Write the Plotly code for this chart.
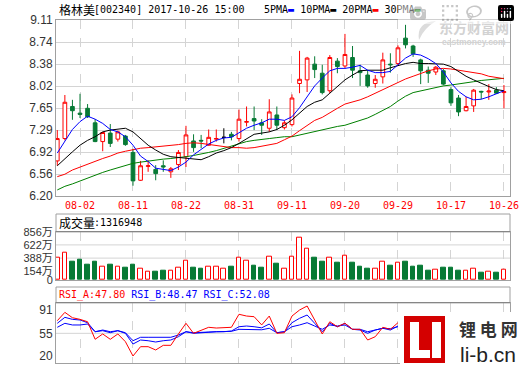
import plotly.graph_objects as go

dates = ['07-28','07-31','08-01','08-02','08-03','08-04','08-07','08-08','08-09','08-10',
         '08-11','08-14','08-15','08-16','08-17','08-18','08-21','08-22','08-23','08-24',
         '08-25','08-28','08-29','08-30','08-31','09-01','09-04','09-05','09-06','09-07',
         '09-08','09-11','09-12','09-13','09-14','09-15','09-18','09-19','09-20','09-21',
         '09-22','09-25','09-26','09-27','09-28','09-29','10-09','10-10','10-11','10-12',
         '10-13','10-16','10-17','10-18','10-19','10-20','10-23','10-24','10-25','10-26']

open_ = [6.78,7.15,7.68,7.57,7.65,7.41,7.10,7.24,7.14,7.19,
         6.92,6.46,6.69,6.64,6.70,6.60,6.72,6.85,7.11,7.12,
         7.04,7.14,7.17,7.22,7.15,7.42,7.48,7.41,7.32,7.54,
         7.33,7.38,8.06,8.12,8.38,8.23,7.94,8.43,8.35,8.49,
         8.27,8.20,8.06,8.17,8.38,8.39,8.81,8.68,8.45,8.28,
         8.25,8.27,7.96,7.82,7.61,7.69,7.93,7.92,7.95,7.91]
high = [7.29,7.87,7.79,7.89,7.72,7.47,7.26,7.39,7.28,7.21,
        6.98,6.78,6.79,6.71,6.79,6.68,6.96,7.36,7.22,7.21,
        7.30,7.30,7.32,7.26,7.63,7.68,7.68,7.47,7.80,7.68,
        7.45,7.88,8.60,8.50,8.51,8.37,8.53,8.48,8.88,8.68,
        8.37,8.28,8.20,8.57,8.56,8.69,9.03,8.70,8.47,8.34,
        8.35,8.30,8.00,7.87,7.84,7.97,7.94,8.05,8.00,8.035]
low = [6.70,7.12,7.46,7.49,7.49,7.09,6.94,7.01,7.10,7.03,
       6.37,6.45,6.60,6.46,6.60,6.50,6.63,6.68,6.93,6.99,
       7.03,7.10,7.07,7.12,7.10,7.35,7.29,7.21,7.26,7.29,
       7.30,7.35,7.90,7.92,8.15,7.88,7.90,8.23,8.31,8.15,
       8.02,7.99,7.99,8.06,8.24,8.35,8.64,8.50,8.05,8.07,
       8.20,8.03,7.69,7.52,7.60,7.59,7.80,7.79,7.89,7.65]
close = [7.15,7.75,7.61,7.55,7.51,7.10,7.25,7.07,7.26,7.05,
         6.45,6.70,6.70,6.57,6.68,6.65,6.92,7.21,7.00,7.11,
         7.17,7.15,7.17,7.18,7.47,7.43,7.44,7.37,7.59,7.37,
         7.41,7.82,8.13,8.48,8.29,7.91,8.49,8.34,8.54,8.28,
         8.24,8.02,8.13,8.45,8.37,8.65,8.70,8.55,8.27,8.23,
         8.33,8.05,7.74,7.59,7.68,7.95,7.92,7.935,7.90,7.925]

ma5 = [6.91,7.10,7.30,7.43,7.52,7.47,7.40,7.30,7.26,7.18,
       7.04,6.86,6.77,6.66,6.64,6.62,6.68,6.76,6.88,6.97,
       7.06,7.12,7.16,7.17,7.25,7.32,7.37,7.41,7.47,7.47,
       7.45,7.51,7.66,7.84,8.02,8.15,8.27,8.31,8.31,8.33,
       8.36,8.28,8.24,8.24,8.26,8.37,8.48,8.55,8.53,8.47,
       8.39,8.25,8.07,7.93,7.84,7.79,7.80,7.84,7.89,7.94]
ma10 = [6.70,6.82,6.93,7.04,7.12,7.18,7.26,7.29,7.31,7.32,
        7.26,7.15,7.04,6.96,6.89,6.85,6.84,6.83,6.81,6.80,
        6.85,6.91,6.95,7.00,7.07,7.15,7.22,7.24,7.26,7.30,
        7.37,7.46,7.57,7.68,7.75,7.79,7.90,8.01,8.12,8.20,
        8.27,8.28,8.28,8.28,8.32,8.36,8.39,8.41,8.39,8.39,
        8.38,8.38,8.34,8.26,8.18,8.12,8.06,8.01,7.96,7.94]
ma20 = [6.52,6.56,6.63,6.68,6.73,6.77,6.82,6.86,6.91,6.94,
        6.97,6.99,7.00,7.01,7.02,7.03,7.05,7.07,7.08,7.07,
        7.05,7.03,7.01,7.00,7.00,6.99,7.00,7.02,7.04,7.07,
        7.13,7.19,7.28,7.37,7.45,7.50,7.58,7.65,7.72,7.75,
        7.79,7.84,7.90,7.95,8.01,8.08,8.135,8.18,8.23,8.27,
        8.30,8.31,8.30,8.28,8.27,8.25,8.22,8.18,8.16,8.14]
ma30 = [6.30,6.36,6.40,6.45,6.49,6.54,6.59,6.63,6.67,6.70,
        6.74,6.76,6.78,6.80,6.81,6.82,6.83,6.85,6.87,6.89,
        6.92,6.95,6.99,7.03,7.07,7.10,7.12,7.14,7.15,7.165,
        7.18,7.18,7.21,7.24,7.26,7.29,7.32,7.35,7.37,7.41,
        7.44,7.49,7.55,7.61,7.68,7.77,7.85,7.91,7.94,7.97,
        8.00,8.02,8.035,8.05,8.07,8.09,8.11,8.12,8.13,8.146]

volume = [398,487,331,367,278,331,236,278,236,224,
          278,200,147,152,170,170,224,344,224,206,
          236,236,200,242,398,344,260,224,415,296,
          200,415,756,547,403,331,398,314,434,314,
          242,206,206,326,260,308,331,242,260,170,
          188,224,224,170,170,206,134,152,134,188]

rsi_a = [74.5,87.4,79.1,76.6,72.9,45.8,54.0,45.8,54.0,42.1,
         20.0,34.4,34.4,29.3,36.5,36.5,54.0,70.5,55.0,60.1,
         64.3,63.2,64.3,64.3,84.4,81.7,80.7,68.0,81.7,55.0,
         56.0,81.7,91.0,97.2,75.6,54.0,72.9,65.2,70.5,61.2,
         61.2,44.7,49.8,64.3,61.2,71.4]
rsi_b = [70.5,79.7,76.6,75.6,71.4,57.5,59.1,56.0,59.1,55.0,
         38.5,44.7,43.6,41.6,43.6,44.7,49.8,57.5,55.0,56.0,
         57.0,57.5,57.5,58.6,65.2,66.3,65.2,63.5,69.4,56.0,
         57.5,71.4,78.2,83.3,70.5,57.5,70.5,65.2,70.5,61.2,
         60.1,55.0,60.1,62.8,60.1,66.3]
rsi_c = [64.3,70.5,67.9,67.9,69.4,57.5,60.1,57.5,59.1,56.0,
         43.6,48.9,48.9,48.9,48.9,48.9,52.4,57.5,56.0,57.0,
         57.0,57.5,57.5,58.1,61.2,61.2,61.2,60.5,62.8,56.0,
         57.5,65.2,67.9,71.4,66.3,61.2,67.9,66.3,67.9,61.2,
         61.2,57.5,60.1,62.8,62.2,65.2]

date_ticks = ['08-02','08-11','08-22','08-31','09-11','09-20','09-29','10-17','10-26']
price_ticks = ['6.20','6.56','6.92','7.29','7.65','8.02','8.38','8.74','9.11']
vol_tickvals = [0, 154, 388, 622, 856]
vol_ticktext = ['0', '154万', '388万', '622万', '856万']
rsi_tickvals = [20, 55, 91]

RED = '#ff0000'
GREEN = '#077a35'
GRID = '#d4d4d4'
FRAME = '#a0a0a0'
MONO = 'DejaVu Sans Mono'
CJK = 'Noto Sans CJK SC'
SANS = 'Liberation Sans, Noto Sans CJK SC'

flat = [o == c for o, c in zip(open_, close)]

fig = go.Figure()

for vals, col in [(ma30, '#008000'), (ma20, RED), (ma10, '#000000'), (ma5, '#0000ff')]:
    fig.add_trace(go.Scatter(x=dates, y=vals, mode='lines', line=dict(color=col, width=1),
                             xaxis='x', yaxis='y', hoverinfo='skip'))

def pick(arr, keep):
    return [v if k else None for v, k in zip(arr, keep)]

normal = [not f for f in flat]
fig.add_trace(go.Candlestick(
    x=dates, open=pick(open_, normal), high=pick(high, normal), low=pick(low, normal),
    close=pick(close, normal), xaxis='x', yaxis='y',
    increasing=dict(line=dict(color=RED, width=1), fillcolor='#ffffff'),
    decreasing=dict(line=dict(color=GREEN, width=1), fillcolor=GREEN),
    whiskerwidth=0, hoverinfo='skip'))
fig.add_trace(go.Candlestick(
    x=dates, open=pick(open_, flat), high=pick(high, flat), low=pick(low, flat),
    close=pick(close, flat), xaxis='x', yaxis='y',
    increasing=dict(line=dict(color='#000000', width=1), fillcolor='#000000'),
    decreasing=dict(line=dict(color='#000000', width=1), fillcolor='#000000'),
    whiskerwidth=0, hoverinfo='skip'))

up = [c >= o for o, c in zip(open_, close)]
fig.add_trace(go.Bar(x=dates, y=volume, xaxis='x2', yaxis='y2', width=0.62,
                     marker=dict(color=['#ffffff' if u else GREEN for u in up],
                                 line=dict(color=[RED if u else GREEN for u in up], width=1)),
                     hoverinfo='skip'))

n = len(rsi_a)
for vals, col in [(rsi_c, '#0000ff'), (rsi_b, '#0000ff'), (rsi_a, RED)]:
    fig.add_trace(go.Scatter(x=dates[:n], y=vals, mode='lines', line=dict(color=col, width=1),
                             xaxis='x3', yaxis='y3', hoverinfo='skip'))

def py(px):
    return (363 - px) / 343.0

def pxx(px):
    return (px - 56) / 454.0

main_dom = [py(196), 1.0]
vol_dom = [py(280), py(231.7)]
rsi_dom = [0.0, py(302.7)]
xr = [-0.17, 59.8]

pmin, pmax = 6.20, 9.11
price_vals = [pmin + k * (pmax - pmin) / 8 for k in range(9)]

axis_common = dict(showline=True, mirror=True, linecolor=FRAME, linewidth=1, zeroline=False,
                   ticks='', fixedrange=True, automargin=False)

fig.update_layout(
    width=520, height=365, autosize=False,
    margin=dict(l=56, r=10, t=20, b=2),
    paper_bgcolor='white', plot_bgcolor='white',
    showlegend=False, bargap=0,
    xaxis=dict(domain=[0, 1], anchor='y', type='category', range=xr, categoryorder='array',
               categoryarray=dates, tickvals=date_ticks, ticktext=date_ticks,
               tickfont=dict(family=MONO, size=10, color=RED),
               showgrid=True, gridcolor=GRID, griddash='dash', gridwidth=1,
               rangeslider=dict(visible=False), **axis_common),
    yaxis=dict(domain=main_dom, anchor='x', range=[pmin, pmax], tickvals=price_vals,
               ticktext=price_ticks, tickfont=dict(family=SANS, size=12, color='#333333'),
               showgrid=True, gridcolor=GRID, **axis_common),
    xaxis2=dict(domain=[0, 1], anchor='y2', type='category', range=xr, categoryorder='array',
                categoryarray=dates, tickvals=date_ticks, showticklabels=False,
                showgrid=True, gridcolor=GRID, griddash='dash', **axis_common),
    yaxis2=dict(domain=vol_dom, anchor='x2', range=[0, 856], tickvals=vol_tickvals,
                ticktext=vol_ticktext, tickfont=dict(family=SANS, size=11, color='#333333'),
                showgrid=False, **axis_common),
    xaxis3=dict(domain=[0, 1], anchor='y3', type='category', range=xr, categoryorder='array',
                categoryarray=dates, tickvals=date_ticks, showticklabels=False,
                showgrid=True, gridcolor=GRID, griddash='dash', **axis_common),
    yaxis3=dict(domain=rsi_dom, anchor='x3', range=[9.2, 102.3], tickvals=rsi_tickvals,
                ticktext=[str(v) for v in rsi_tickvals],
                tickfont=dict(family=SANS, size=12, color='#333333'),
                showgrid=False, **axis_common),
)

shapes = []
for v in [388, 622]:
    shapes.append(dict(type='line', xref='x2 domain', yref='y2', x0=0, x1=1, y0=v, y1=v,
                       line=dict(color=GRID, width=1), layer='below'))
shapes.append(dict(type='line', xref='x3 domain', yref='y3', x0=0, x1=1, y0=55, y1=55,
                   line=dict(color=GRID, width=1), layer='below'))
for top, bot in [(214, 231.7), (287, 302.7)]:
    shapes.append(dict(type='rect', xref='paper', yref='paper', x0=0, x1=1, y0=py(bot), y1=py(top),
                       line=dict(color=FRAME, width=1), fillcolor='rgba(0,0,0,0)'))
    shapes.append(dict(type='line', xref='paper', yref='paper', x0=0, x1=1, y0=py(bot), y1=py(bot),
                       line=dict(color='#808080', width=1)))
# watermark swirl (light grey)
shapes.append(dict(type='path', xref='paper', yref='paper', layer='below',
                   path='M {} {} Q {} {} {} {} Q {} {} {} {} Z'.format(
                       pxx(419), py(40), pxx(416), py(22), pxx(436), py(21),
                       pxx(424), py(28), pxx(419), py(40)),
                   line=dict(width=0), fillcolor='#dcdcdc'))
# logo (white backdrop, red square with white "LI")
shapes.append(dict(type='rect', xref='paper', yref='paper', x0=pxx(400), x1=pxx(522),
                   y0=py(366), y1=py(312), line=dict(width=0), fillcolor='white', layer='above'))
shapes.append(dict(type='rect', xref='paper', yref='paper', x0=pxx(404), x1=pxx(445),
                   y0=py(363), y1=py(316), line=dict(width=0), fillcolor='#d40000', layer='above'))
for x0, x1, y0, y1 in [(410, 419, 322, 358), (410, 430, 350, 358), (432, 441, 322, 358)]:
    shapes.append(dict(type='rect', xref='paper', yref='paper', x0=pxx(x0), x1=pxx(x1),
                       y0=py(y1), y1=py(y0), line=dict(width=0), fillcolor='white', layer='above'))
fig.update_layout(shapes=shapes)

ann = []
def text(x, y, s, family, size, color='#000000', anchor='left'):
    ann.append(dict(xref='paper', yref='paper', x=pxx(x), y=py(y), text=s, showarrow=False,
                    xanchor=anchor, yanchor='middle', font=dict(family=family, size=size, color=color)))

text(56.5, 10, '格林美', CJK, 12)
text(92, 10, '[002340] 2017-10-26 15:00', MONO, 10)
text(262, 10, "5PMA<span style='color:#0000ff'>▬</span> 10PMA<span style='color:#000000'>▬</span> "
              "20PMA<span style='color:#ff0000'>▬</span> 30PMA<span style='color:#008000'>▬</span>",
     MONO, 10)
text(56.5, 222.5, '成交量', CJK, 12)
text(92, 222.5, ':1316948', MONO, 10)
text(57, 294.5, "RSI_A:47.80 <span style='color:#0000ff'>RSI_B:48.47 RSI_C:52.08</span>", MONO, 10, RED)
text(474, 27.5, '<b>东方财富网</b>', CJK, 14, '#d2d2d2', 'center')
text(474, 41.5, '<b>eastmoney.com</b>', 'Liberation Sans', 8.5, '#d2d2d2', 'center')
text(488, 328, '<b>锂 电 网</b>', CJK, 17, '#333333', 'center')
text(488, 354, 'li-b.cn', 'Liberation Sans', 21, '#222222', 'center')
fig.update_layout(annotations=ann)

# the page's default 8px body margin would shift the 520x365 figure; remove it
fig.write_html('out.html', post_script="document.body.style.margin='0px';")
